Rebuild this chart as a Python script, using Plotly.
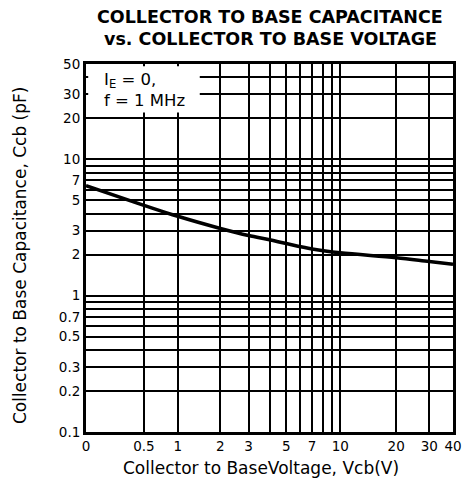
import math
import plotly.graph_objects as go

# Data (V_CB in volts, C_CB in pF)
vcb = [0, 0.5, 1, 2, 3, 4, 5, 7, 10, 20, 30, 40]
ccb = [6.4, 4.6, 3.82, 3.11, 2.76, 2.57, 2.41, 2.20, 2.06, 1.90, 1.78, 1.70]

# Axis ticks (labelled) and extra grid lines (unlabelled)
x_ticks = [0, 0.5, 1, 2, 3, 5, 7, 10, 20, 30, 40]
x_labels = ["0", "0.5", "1", "2", "3", "5", "7", "10", "20", "30", "40"]
x_minor = [4, 6, 8, 9]
y_ticks = [0.1, 0.2, 0.3, 0.5, 0.7, 1, 2, 3, 5, 7, 10, 20, 30, 50]
y_labels = ["0.1", "0.2", "0.3", "0.5", "0.7", "1", "2", "3", "5", "7",
            "10", "20", "30", "50"]
y_minor = [0.4, 0.6, 0.8, 0.9, 4, 6, 8, 9, 40]

X_OFFSET = 0.5  # the chart's voltage scale is logarithmic in (V + offset)

xs = [v + X_OFFSET for v in vcb]

fig = go.Figure()
fig.add_trace(go.Scatter(
    x=xs, y=ccb, mode="lines",
    line=dict(color="black", width=3.5, shape="spline", smoothing=1.0),
    showlegend=False, hoverinfo="skip"))

grid = dict(showgrid=True, gridcolor="black", gridwidth=1.6)

# page body has an 8px margin -> figure is 464x471, placed at (8, 8)
fig.update_layout(
    width=464, height=471,
    margin=dict(l=78, r=10, t=56, b=47),
    paper_bgcolor="white", plot_bgcolor="white",
    font=dict(family="DejaVu Sans", color="black"),
    xaxis=dict(
        type="log",
        range=[math.log10(0 + X_OFFSET), math.log10(40 + X_OFFSET)],
        tickmode="array",
        tickvals=[v + X_OFFSET for v in x_ticks],
        ticktext=x_labels,
        minor=dict(tickmode="array", tickvals=[v + X_OFFSET for v in x_minor],
                   ticks="", **grid),
        showline=True, linecolor="black", linewidth=3, mirror=True,
        ticks="", tickfont=dict(size=13.5, family="DejaVu Sans"),
        zeroline=False, **grid,
    ),
    yaxis=dict(
        type="log",
        range=[-1, math.log10(50)],
        tickmode="array",
        tickvals=y_ticks,
        ticktext=y_labels,
        minor=dict(tickmode="array", tickvals=y_minor, ticks="", **grid),
        showline=True, linecolor="black", linewidth=3, mirror=True,
        ticks="", tickfont=dict(size=13.5, family="DejaVu Sans"),
        zeroline=False, **grid,
    ),
)

# white box behind the condition text
fig.add_shape(type="rect", xref="x domain", yref="y domain",
              x0=0.006, x1=0.31, y0=0.868, y1=0.994,
              fillcolor="white", line=dict(width=0), layer="above")

# plot area is 376 x 368 px; positions below are in reference pixels
def px(x):
    return (x - 86) / 376

def py(y):
    return (432 - y) / 368

annots = [
    dict(text="<b>COLLECTOR TO BASE CAPACITANCE</b>", x=px(275), y=py(16.5),
         font=dict(size=17.5, family="DejaVu Sans")),
    dict(text="<b>vs. COLLECTOR TO BASE VOLTAGE</b>", x=px(275), y=py(39),
         font=dict(size=17.5, family="DejaVu Sans")),
    dict(text="Collector to Base Capacitance, Ccb (pF)", x=px(19),
         y=py(255.5), textangle=-90, font=dict(size=17)),
    dict(text="Collector to BaseVoltage, Vcb(V)", x=px(265),
         y=py(468), font=dict(size=17)),
    dict(text="I<sub>E</sub> = 0,<br>f = 1 MHz", x=px(102), y=py(90),
         xanchor="left", align="left", font=dict(size=16.5)),
]
for a in annots:
    a.setdefault("xanchor", "center")
    fig.add_annotation(xref="paper", yref="paper", showarrow=False,
                       yanchor="middle", **a)

fig.write_html("out.html")
